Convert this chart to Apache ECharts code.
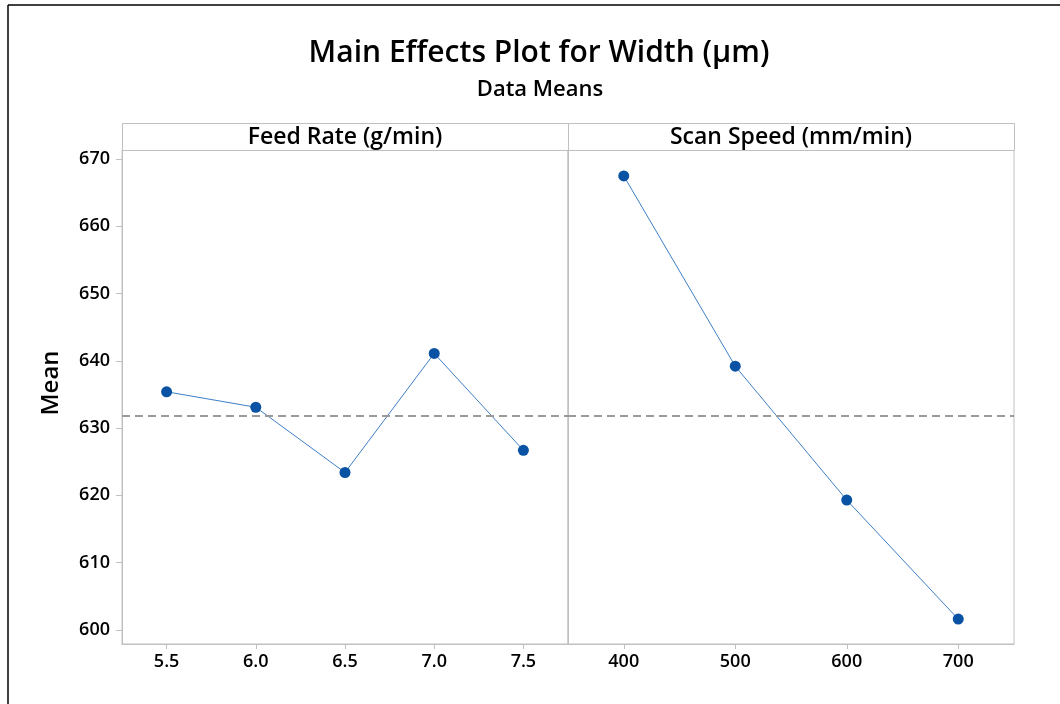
<!DOCTYPE html>
<html>
<head>
<meta charset="utf-8">
<title>Main Effects Plot for Width (μm)</title>
<script src="https://cdn.jsdelivr.net/npm/echarts@6/dist/echarts.min.js"></script>
<style>
  html, body { margin: 0; padding: 0; background: #ffffff; }
  #chart { width: 1060px; height: 704px; }
</style>
</head>
<body>
<div id="chart"></div>
<script>
// Factor levels and the mean response (width, μm) at each level
const feedRateLevels = ['5.5', '6.0', '6.5', '7.0', '7.5'];
const feedRateMeans = [635.4, 633.1, 623.4, 641.1, 626.7];
const scanSpeedLevels = ['400', '500', '600', '700'];
const scanSpeedMeans = [667.5, 639.2, 619.3, 601.6];
const yTickValues = [600, 610, 620, 630, 640, 650, 660, 670];
const grandMean = 631.9;
const panelTitles = ['Feed Rate (g/min)', 'Scan Speed (mm/min)'];

const FONT = '"Open Sans", "Noto Sans", sans-serif';
const FRAME = '#c0c0c0';
const POINT = '#0a52a3';
const LINE = '#3f7fc6';

const plotLeft = 122, panelW = 446, headerTop = 123, plotTop = 150, plotH = 494;
const yMin = 597.9, yMax = 671.35;

const chart = echarts.init(document.getElementById('chart'), null, { renderer: 'canvas' });

function makeXAxis(idx, levels) {
  return {
    type: 'category', gridIndex: idx, data: levels, boundaryGap: true,
    axisLine: { show: true, lineStyle: { color: FRAME, width: 1 } },
    axisTick: { show: true, length: 5, alignWithLabel: true, lineStyle: { color: FRAME } },
    axisLabel: { color: '#000', fontFamily: FONT, fontSize: 18, fontWeight: 600, margin: 9 },
    splitLine: { show: false }
  };
}

function makeYAxis(idx, showLabels) {
  return {
    type: 'value', gridIndex: idx, min: yMin, max: yMax,
    axisLine: { show: true, lineStyle: { color: FRAME, width: 1 } },
    axisTick: { show: showLabels, length: 6, customValues: yTickValues, lineStyle: { color: FRAME } },
    axisLabel: { show: showLabels, customValues: yTickValues, color: '#000', fontFamily: FONT, fontSize: 18, fontWeight: 600, margin: 12 },
    splitLine: { show: false }
  };
}

function meanLine() {
  return {
    silent: true, symbol: 'none', animation: false,
    label: { show: false },
    lineStyle: { type: [8, 5], color: '#9a9a9a', width: 2 },
    data: [{ yAxis: grandMean }]
  };
}

function makeSeries(idx, values) {
  return {
    type: 'line', xAxisIndex: idx, yAxisIndex: idx, data: values,
    symbol: 'circle', symbolSize: 11, animation: false,
    itemStyle: { color: POINT },
    lineStyle: { color: LINE, width: 1 },
    markLine: meanLine()
  };
}

const graphics = [
  // outer frame edges
  { type: 'line', shape: { x1: 8, y1: 5, x2: 1060, y2: 5 }, style: { stroke: '#000', lineWidth: 1.5 } },
  { type: 'line', shape: { x1: 8, y1: 5, x2: 8, y2: 704 }, style: { stroke: '#000', lineWidth: 1.5 } },
  // y-axis name
  { type: 'text', x: 51, y: 383, rotation: Math.PI / 2,
    style: { text: 'Mean', fontFamily: FONT, fontSize: 24, fontWeight: 600, fill: '#000', align: 'center', verticalAlign: 'middle' } }
];
panelTitles.forEach(function (t, i) {
  const x0 = plotLeft + i * panelW;
  graphics.push({ type: 'rect', shape: { x: x0 + 0.5, y: headerTop + 0.5, width: panelW, height: plotTop - headerTop },
    style: { fill: '#fff', stroke: FRAME, lineWidth: 1 } });
  graphics.push({ type: 'text', x: x0 + panelW / 2, y: (headerTop + plotTop) / 2 + 1,
    style: { text: t, fontFamily: FONT, fontSize: 23, fontWeight: 600, fill: '#000', align: 'center', verticalAlign: 'middle' } });
});

chart.setOption({
  backgroundColor: '#ffffff',
  title: [
    { text: 'Main Effects Plot for Width (μm)', left: 534, top: 33, textAlign: 'center',
      textStyle: { fontFamily: FONT, fontSize: 30, fontWeight: 600, color: '#000' } },
    { text: 'Data Means', left: 535, top: 74, textAlign: 'center',
      textStyle: { fontFamily: FONT, fontSize: 22, fontWeight: 600, color: '#000' } }
  ],
  grid: [
    { left: plotLeft, top: plotTop, width: panelW, height: plotH, show: true, borderColor: FRAME, borderWidth: 1, backgroundColor: 'transparent' },
    { left: plotLeft + panelW, top: plotTop, width: panelW, height: plotH, show: true, borderColor: FRAME, borderWidth: 1, backgroundColor: 'transparent' }
  ],
  xAxis: [makeXAxis(0, feedRateLevels), makeXAxis(1, scanSpeedLevels)],
  yAxis: [makeYAxis(0, true), makeYAxis(1, false)],
  series: [makeSeries(0, feedRateMeans), makeSeries(1, scanSpeedMeans)],
  graphic: graphics
});
</script>
</body>
</html>
